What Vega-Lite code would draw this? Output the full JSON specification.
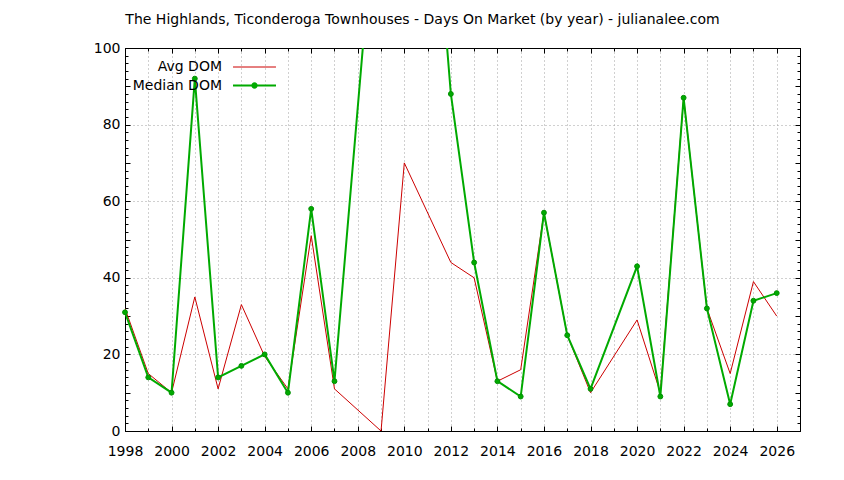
{
  "$schema": "https://vega.github.io/schema/vega-lite/v6.json",
  "autosize": {"type": "none"},
  "width": 675,
  "height": 383,
  "padding": {"left": 125, "top": 48, "right": 44, "bottom": 49},
  "background": "white",
  "title": {
    "text": "The Highlands, Ticonderoga Townhouses - Days On Market (by year) - julianalee.com",
    "font": "DejaVu Sans",
    "fontSize": 14,
    "fontWeight": "normal",
    "color": "#000000",
    "anchor": "middle",
    "frame": "group",
    "baseline": "alphabetic",
    "dx": -40,
    "dy": 22,
    "offset": 25
  },
  "data": {
    "values": [
      {"year": 1998, "series": "Avg DOM", "dom": 32},
      {"year": 1999, "series": "Avg DOM", "dom": 15},
      {"year": 2000, "series": "Avg DOM", "dom": 10},
      {"year": 2001, "series": "Avg DOM", "dom": 35},
      {"year": 2002, "series": "Avg DOM", "dom": 11},
      {"year": 2003, "series": "Avg DOM", "dom": 33},
      {"year": 2004, "series": "Avg DOM", "dom": 19.5},
      {"year": 2005, "series": "Avg DOM", "dom": 11},
      {"year": 2006, "series": "Avg DOM", "dom": 51},
      {"year": 2007, "series": "Avg DOM", "dom": 11},
      {"year": 2009, "series": "Avg DOM", "dom": 0},
      {"year": 2010, "series": "Avg DOM", "dom": 70},
      {"year": 2012, "series": "Avg DOM", "dom": 44},
      {"year": 2013, "series": "Avg DOM", "dom": 40},
      {"year": 2014, "series": "Avg DOM", "dom": 13},
      {"year": 2015, "series": "Avg DOM", "dom": 16},
      {"year": 2016, "series": "Avg DOM", "dom": 57},
      {"year": 2017, "series": "Avg DOM", "dom": 25},
      {"year": 2018, "series": "Avg DOM", "dom": 10},
      {"year": 2020, "series": "Avg DOM", "dom": 29},
      {"year": 2021, "series": "Avg DOM", "dom": 10},
      {"year": 2022, "series": "Avg DOM", "dom": 87},
      {"year": 2023, "series": "Avg DOM", "dom": 32},
      {"year": 2024, "series": "Avg DOM", "dom": 15},
      {"year": 2025, "series": "Avg DOM", "dom": 39},
      {"year": 2026, "series": "Avg DOM", "dom": 30},
      {"year": 1998, "series": "Median DOM", "dom": 31},
      {"year": 1999, "series": "Median DOM", "dom": 14},
      {"year": 2000, "series": "Median DOM", "dom": 10},
      {"year": 2001, "series": "Median DOM", "dom": 92},
      {"year": 2002, "series": "Median DOM", "dom": 14},
      {"year": 2003, "series": "Median DOM", "dom": 17},
      {"year": 2004, "series": "Median DOM", "dom": 20},
      {"year": 2005, "series": "Median DOM", "dom": 10},
      {"year": 2006, "series": "Median DOM", "dom": 58},
      {"year": 2007, "series": "Median DOM", "dom": 13},
      {"year": 2009, "series": "Median DOM", "dom": 156},
      {"year": 2011, "series": "Median DOM", "dom": 163},
      {"year": 2012, "series": "Median DOM", "dom": 88},
      {"year": 2013, "series": "Median DOM", "dom": 44},
      {"year": 2014, "series": "Median DOM", "dom": 13},
      {"year": 2015, "series": "Median DOM", "dom": 9},
      {"year": 2016, "series": "Median DOM", "dom": 57},
      {"year": 2017, "series": "Median DOM", "dom": 25},
      {"year": 2018, "series": "Median DOM", "dom": 11},
      {"year": 2020, "series": "Median DOM", "dom": 43},
      {"year": 2021, "series": "Median DOM", "dom": 9},
      {"year": 2022, "series": "Median DOM", "dom": 87},
      {"year": 2023, "series": "Median DOM", "dom": 32},
      {"year": 2024, "series": "Median DOM", "dom": 7},
      {"year": 2025, "series": "Median DOM", "dom": 34},
      {"year": 2026, "series": "Median DOM", "dom": 36}
    ]
  },
  "layer": [
    {
      "mark": {"type": "line", "clip": true},
      "encoding": {
        "x": {
          "field": "year", "type": "quantitative",
          "scale": {"domain": [1998, 2027], "nice": false, "zero": false},
          "axis": {
            "orient": "bottom", "title": null,
            "values": [1998, 1999, 2000, 2001, 2002, 2003, 2004, 2005, 2006, 2007, 2008, 2009, 2010, 2011, 2012, 2013, 2014, 2015, 2016, 2017, 2018, 2019, 2020, 2021, 2022, 2023, 2024, 2025, 2026, 2027],
            "labelExpr": "datum.value % 2 == 0 && datum.value < 2027 ? datum.value : ''",
            "labelPadding": 18,
            "labelFlush": false,
            "grid": true,
            "gridOpacity": {"condition": {"test": "datum.value == 1998 || datum.value == 2027", "value": 0}, "value": 1},
            "tickSize": {"condition": {"test": "datum.value % 2 == 0", "value": -5}, "value": -3}
          }
        },
        "y": {
          "field": "dom", "type": "quantitative",
          "scale": {"domain": [0, 100], "nice": false},
          "axis": {
            "orient": "left", "title": null,
            "values": [0, 2, 4, 6, 8, 10, 12, 14, 16, 18, 20, 22, 24, 26, 28, 30, 32, 34, 36, 38, 40, 42, 44, 46, 48, 50, 52, 54, 56, 58, 60, 62, 64, 66, 68, 70, 72, 74, 76, 78, 80, 82, 84, 86, 88, 90, 92, 94, 96, 98, 100],
            "labelExpr": "datum.value % 20 == 0 ? datum.value : ''",
            "labelPadding": 10,
            "labelFlush": false,
            "grid": true,
            "gridOpacity": {"condition": {"test": "datum.value % 20 == 0 && datum.value > 0 && datum.value < 100", "value": 1}, "value": 0},
            "tickSize": {"condition": {"test": "datum.value % 10 == 0", "value": -5}, "value": -3}
          }
        },
        "color": {
          "field": "series", "type": "nominal",
          "scale": {"domain": ["Avg DOM", "Median DOM"], "range": ["#cc0000", "#00aa00"]},
          "legend": {
            "orient": "none", "legendX": 121, "legendY": 11,
            "title": null, "padding": 0,
            "symbolType": "stroke", "symbolSize": 205,
            "labelAlign": "right", "labelOffset": -41,
            "rowPadding": 3,
            "labelFontSize": 14, "labelFont": "DejaVu Sans", "labelColor": "#000000",
            "labelLimit": 300,
            "encode": {
              "symbols": {
                "update": {
                  "shape": {"signal": "datum.value == 'Median DOM' ? 'M-3,0H3M0.3,0A0.3,0.3 0 1,1 -0.3,0A0.3,0.3 0 1,1 0.3,0' : 'M-3,0H3'"},
                  "strokeWidth": {"signal": "datum.value == 'Median DOM' ? 2 : 1"},
                  "fill": {"signal": "datum.value == 'Median DOM' ? '#00aa00' : 'transparent'"},
                  "opacity": {"value": 1}
                }
              }
            }
          }
        },
        "strokeWidth": {
          "field": "series", "type": "nominal",
          "scale": {"domain": ["Avg DOM", "Median DOM"], "range": [1, 2]},
          "legend": null
        }
      }
    },
    {
      "transform": [{"filter": "datum.series == 'Median DOM' && datum.dom <= 100"}],
      "mark": {"type": "point", "filled": true, "size": 24, "color": "#00aa00", "stroke": "#009000", "strokeWidth": 1, "opacity": 1},
      "encoding": {
        "x": {"field": "year", "type": "quantitative", "axis": null},
        "y": {"field": "dom", "type": "quantitative", "axis": null}
      }
    },
    {
      "transform": [{"filter": "datum.dom <= 100"}],
      "mark": {"type": "line", "opacity": 0, "clip": true},
      "encoding": {
        "x": {
          "field": "year", "type": "quantitative",
          "axis": {
            "orient": "top", "title": null, "labels": false, "grid": false,
            "values": [1998, 1999, 2000, 2001, 2002, 2003, 2004, 2005, 2006, 2007, 2008, 2009, 2010, 2011, 2012, 2013, 2014, 2015, 2016, 2017, 2018, 2019, 2020, 2021, 2022, 2023, 2024, 2025, 2026, 2027],
            "tickSize": {"condition": {"test": "datum.value % 2 == 0", "value": -5}, "value": -3}
          }
        },
        "y": {
          "field": "dom", "type": "quantitative",
          "axis": {
            "orient": "right", "title": null, "labels": false, "grid": false,
            "values": [0, 2, 4, 6, 8, 10, 12, 14, 16, 18, 20, 22, 24, 26, 28, 30, 32, 34, 36, 38, 40, 42, 44, 46, 48, 50, 52, 54, 56, 58, 60, 62, 64, 66, 68, 70, 72, 74, 76, 78, 80, 82, 84, 86, 88, 90, 92, 94, 96, 98, 100],
            "tickSize": {"condition": {"test": "datum.value % 10 == 0", "value": -5}, "value": -3}
          }
        },
        "detail": {"field": "series"}
      }
    }
  ],
  "resolve": {"axis": {"x": "independent", "y": "independent"}},
  "config": {
    "view": {"stroke": "#000000", "strokeWidth": 1},
    "axis": {
      "domainColor": "#000000",
      "tickColor": "#000000",
      "labelFont": "DejaVu Sans",
      "labelFontSize": 14,
      "labelColor": "#000000",
      "labelOverlap": false,
      "gridColor": "#a0a0a0",
      "gridDash": [1, 3],
      "gridWidth": 1
    }
  }
}
